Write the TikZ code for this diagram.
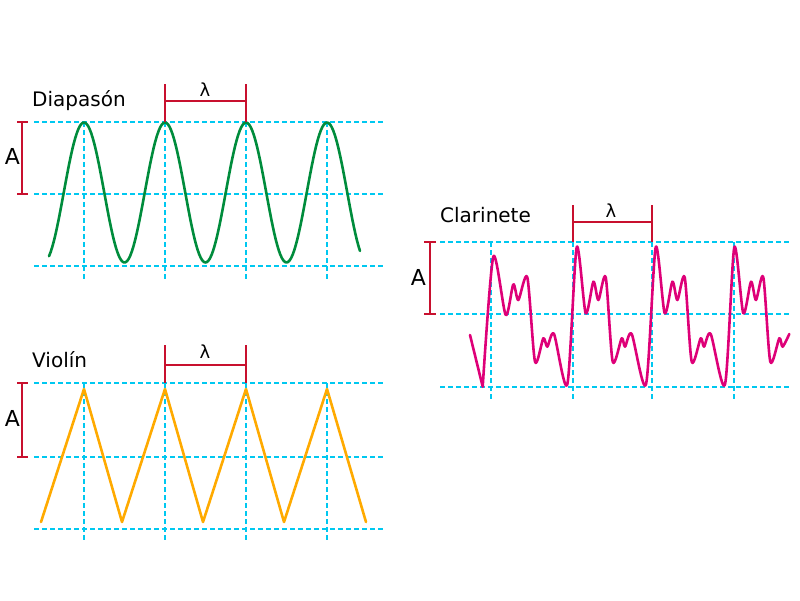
\documentclass[tikz,border=0pt]{standalone}
\usepackage{fontspec}
\setmainfont{DejaVu Sans}
\usetikzlibrary{positioning}

\definecolor{cGuia}{RGB}{0,200,240}
\definecolor{cCota}{RGB}{200,16,46}
\definecolor{cVerde}{RGB}{0,140,60}
\definecolor{cNaranja}{RGB}{255,170,0}
\definecolor{cFucsia}{RGB}{222,0,120}

\begin{document}
\begin{tikzpicture}[x=1pt, y=-1pt,
    linea/.style={draw=cGuia, line width=1.3pt, dash pattern=on 5pt off 3pt},
    cota/.style={draw=cCota, line width=1.3pt},
    onda/.style={line width=2.6pt, line join=round, line cap=round},
    titulo/.style={font=\fontsize{20}{24}\selectfont, anchor=base west, inner sep=0pt},
    letra/.style={font=\fontsize{22}{26}\selectfont, anchor=base, inner sep=0pt},
    lam/.style={font=\fontsize{18}{21}\selectfont, anchor=base, inner sep=0pt}
]
\useasboundingbox (0,0) rectangle (800,600);

% Diapason
\foreach \y in {122,194,266} \draw[linea] (34,\y) -- (383,\y);
\foreach \x in {84,165,246,327} \draw[linea] (\x,122) -- (\x,280);
\draw[onda, cVerde, domain=49:360, samples=200] plot (\x, {192.5-70*cos(4.4444*(\x-84))});
\draw[cota] (22,122) -- (22,194) (17,122) -- (28,122) (17,194) -- (28,194);
\draw[cota] (165,84) -- (165,122) (246,84) -- (246,122) (165,101) -- (246,101);
\node[titulo] (tDiap) at (32,106) {Diapasón};
\node[letra] (aDiap) at (12.5,164) {A};
\node[lam] (lDiap) at (205,96) {λ};

% Violin
\foreach \y in {383,457,529} \draw[linea] (34,\y) -- (383,\y);
\foreach \x in {84,165,246,327} \draw[linea] (\x,383) -- (\x,540);
\draw[onda, cNaranja] (41,522) -- (84,389) -- (122,522) -- (165,389) -- (203,522)
    -- (246,389) -- (284,522) -- (327,389) -- (366,522);
\draw[cota] (22,383) -- (22,457) (17,383) -- (28,383) (17,457) -- (28,457);
\draw[cota] (165,345) -- (165,383) (246,345) -- (246,383) (165,365) -- (246,365);
\node[titulo] (tViol) at (32,367) {Violín};
\node[letra] (aViol) at (12.5,426) {A};
\node[lam] (lViol) at (205,358) {λ};

% Clarinete
\foreach \y in {242,314,387} \draw[linea] (440,\y) -- (790,\y);
\foreach \x in {491,573,652,734} \draw[linea] (\x,242) -- (\x,400);
\draw[onda, cFucsia] (470,335) -- (482.7,386.7) -- plot[smooth, tension=.45] coordinates {
    (482.7,386.7) (493.3,256.7) (505.7,315) (513.3,284.3) (518.3,300) (527.3,277.3)
    (535,361.7) (543.3,338.3) (547.3,346.7) (554,334) (567.3,384.3)
    (576.7,247.3) (585.7,313.3) (593.4,281.7) (598.4,300) (605.7,277.3)
    (612.7,361.7) (621.7,338.3) (625,346.7) (631.7,334) (646,384.3)
    (655.7,247.3) (664.7,313.3) (672.4,281.7) (677.4,300) (684.7,277.3)
    (691.7,361.7) (700.7,338.3) (704,346.7) (710.7,334) (725,384.3)
    (734.3,247.3) (743.3,313.3) (751,281.7) (756,300) (763.3,277.3)
    (770.3,361.7) (779.3,338.3) (782.6,346.7) (789.3,334)};
\draw[cota] (430,242) -- (430,314) (424,242) -- (436,242) (424,314) -- (436,314);
\draw[cota] (573,205) -- (573,242) (652,205) -- (652,242) (573,222) -- (652,222);
\node[titulo] (tClar) at (440,222) {Clarinete};
\node[letra] (aClar) at (418.5,285) {A};
\node[lam] (lClar) at (611,217) {λ};
\end{tikzpicture}
\end{document}
